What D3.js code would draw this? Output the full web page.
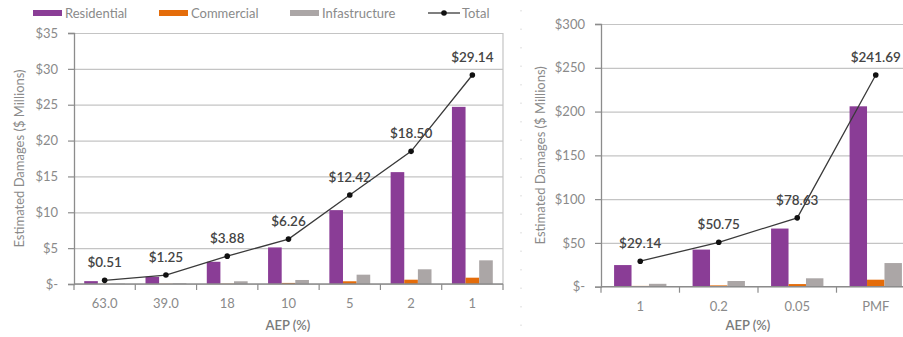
<!DOCTYPE html>
<html>
<head>
<meta charset="utf-8">
<script src="https://cdn.jsdelivr.net/npm/d3@7"></script>
<style>
  html, body { margin: 0; padding: 0; background: #fff; }
  svg { display: block; font-family: Lato, "Open Sans", sans-serif; }
</style>
</head>
<body>
<svg id="chart" width="903" height="337"></svg>
<script>
// Damage estimates ($ millions) by annual exceedance probability
const seriesNames = ["Residential", "Commercial", "Infastructure"];
const seriesColors = ["#8a3d96", "#e46c0a", "#aba6a6"];

const aepLeft = ["63.0", "39.0", "18", "10", "5", "2", "1"];
const residentialLeft = [0.4, 1.0, 3.1, 5.1, 10.3, 15.6, 24.7];
const commercialLeft = [0.02, 0.03, 0.04, 0.15, 0.38, 0.6, 0.88];
const infrastructureLeft = [0.06, 0.1, 0.38, 0.56, 1.3, 2.05, 3.3];
const totalLeft = [0.51, 1.25, 3.88, 6.26, 12.42, 18.50, 29.14];
const yTicksLeft = [0, 5, 10, 15, 20, 25, 30, 35];

const aepRight = ["1", "0.2", "0.05", "PMF"];
const residentialRight = [24.7, 42.4, 66.4, 206];
const commercialRight = [0.9, 1.5, 3.0, 8.0];
const infrastructureRight = [3.3, 6.5, 9.6, 27];
const totalRight = [29.14, 50.75, 78.63, 241.69];
const yTicksRight = [0, 50, 100, 150, 200, 250, 300];

const svg = d3.select("#chart");
const gridColor = "#c4c4c4";
const axisColor = "#8c8c8c";
const labelColor = "#8a8a8a";
const fmtTick = d => d === 0 ? "$-" : "$" + d;

function drawPanel(opt) {
  const g = svg.append("g");
  const x = d3.scaleBand().domain(opt.categories).range([opt.x0, opt.x1]).padding(0);
  const xs = d3.scaleBand().domain(seriesNames).range([0, x.bandwidth()])
    .paddingInner(0).paddingOuter(0.75);
  const y = d3.scaleLinear().domain([0, opt.yMax]).range([opt.y0, opt.y1]);

  // horizontal gridlines
  g.append("g")
    .attr("transform", `translate(${opt.x0},0)`)
    .call(d3.axisLeft(y).tickValues(opt.ticks).tickSize(-(opt.x1 - opt.x0)).tickFormat(""))
    .call(s => s.select(".domain").remove())
    .call(s => s.selectAll("line").attr("stroke", gridColor).attr("stroke-width", 1.2));

  if (opt.rightBorder) {
    g.append("line")
      .attr("x1", opt.x1).attr("x2", opt.x1).attr("y1", y(opt.yMax)).attr("y2", y(0))
      .attr("stroke", gridColor).attr("stroke-width", 1.2);
  }

  // bars
  const rows = opt.categories.map((c, i) => ({ c, v: opt.values.map(arr => arr[i]) }));
  const grp = g.selectAll(".cat").data(rows).join("g")
    .attr("transform", d => `translate(${x(d.c)},0)`);
  grp.selectAll("rect").data(d => d.v.map((v, k) => ({ v, k })))
    .join("rect")
    .attr("x", d => xs(seriesNames[d.k]))
    .attr("width", xs.bandwidth())
    .attr("y", d => y(d.v))
    .attr("height", d => y(0) - y(d.v))
    .attr("fill", d => seriesColors[d.k]);

  // y axis
  const ya = g.append("g")
    .attr("transform", `translate(${opt.x0},0)`)
    .call(d3.axisLeft(y).tickValues(opt.ticks).tickSize(6).tickPadding(10).tickFormat(fmtTick));
  ya.select(".domain").attr("stroke", axisColor).attr("stroke-width", 1.3);
  ya.selectAll("line").attr("stroke", axisColor).attr("stroke-width", 1.2);
  ya.selectAll("text").attr("fill", labelColor).attr("font-size", 13).attr("font-family", "Lato");

  // x axis: baseline, boundary ticks, centred labels
  const xa = g.append("g").attr("transform", `translate(0,${y(0)})`);
  xa.append("line").attr("x1", opt.x0).attr("x2", opt.x1)
    .attr("stroke", axisColor).attr("stroke-width", 1.3);
  const bounds = opt.categories.map(c => x(c)).concat([x.range()[1]]);
  xa.selectAll(".bt").data(bounds).join("line")
    .attr("x1", d => d).attr("x2", d => d).attr("y1", 0).attr("y2", 6)
    .attr("stroke", axisColor).attr("stroke-width", 1.2);
  const xl = g.append("g").attr("transform", `translate(0,${y(0)})`)
    .call(d3.axisBottom(x).tickSize(0).tickPadding(15));
  xl.select(".domain").remove();
  xl.selectAll("text").attr("fill", labelColor).attr("font-size", 13).attr("font-family", "Lato");

  // total line with markers
  const pts = opt.categories.map((c, i) => [x(c) + x.bandwidth() / 2, y(opt.total[i])]);
  g.append("path")
    .attr("d", d3.line()(pts))
    .attr("fill", "none").attr("stroke", "#3a3a3a").attr("stroke-width", 1.3);
  g.selectAll(".pt").data(pts).join("circle")
    .attr("cx", d => d[0]).attr("cy", d => d[1]).attr("r", 2.8).attr("fill", "#111");
  g.selectAll(".lbl").data(opt.total).join("text")
    .attr("x", (d, i) => pts[i][0])
    .attr("y", (d, i) => pts[i][1] - 13)
    .attr("text-anchor", "middle")
    .attr("font-size", 13.5).attr("font-weight", 600).attr("fill", "#444")
    .text(d => "$" + d.toFixed(2));

  // axis titles
  g.append("text")
    .attr("transform", `translate(${opt.yTitleX},${(opt.y0 + opt.y1) / 2}) rotate(-90)`)
    .attr("text-anchor", "middle").attr("dy", "0.35em")
    .attr("font-size", 13).attr("fill", labelColor)
    .text("Estimated Damages ($ Millions)");
  g.append("text")
    .attr("x", opt.xTitleX).attr("y", 330)
    .attr("text-anchor", "middle")
    .attr("font-size", 13).attr("font-weight", 600).attr("fill", "#7a7a7a")
    .text("AEP (%)");
}

drawPanel({
  categories: aepLeft,
  values: [residentialLeft, commercialLeft, infrastructureLeft],
  total: totalLeft, ticks: yTicksLeft, yMax: 35,
  x0: 74, x1: 503, y0: 284, y1: 33,
  rightBorder: true, yTitleX: 19, xTitleX: 288
});

drawPanel({
  categories: aepRight,
  values: [residentialRight, commercialRight, infrastructureRight],
  total: totalRight, ticks: yTicksRight, yMax: 300,
  x0: 601, x1: 915, y0: 286.7, y1: 24,
  rightBorder: false, yTitleX: 540, xTitleX: 748
});

// faint dotted divider between the two panels
svg.append("line")
  .attr("x1", 521).attr("x2", 521).attr("y1", 10).attr("y2", 330)
  .attr("stroke", "#d6d6d6").attr("stroke-width", 1).attr("stroke-dasharray", "1.5,17");

// legend
const legend = svg.append("g").attr("font-size", 13).attr("fill", labelColor);
const legendX = [33, 159, 290];
seriesNames.forEach((name, i) => {
  legend.append("rect").attr("x", legendX[i]).attr("y", 10).attr("width", 29).attr("height", 6)
    .attr("fill", seriesColors[i]);
  legend.append("text").attr("x", legendX[i] + 32).attr("y", 13).attr("dy", "0.35em").text(name);
});
legend.append("line").attr("x1", 428).attr("x2", 460).attr("y1", 13).attr("y2", 13)
  .attr("stroke", "#3a3a3a").attr("stroke-width", 1.3);
legend.append("circle").attr("cx", 444).attr("cy", 13).attr("r", 2.8).attr("fill", "#111");
legend.append("text").attr("x", 462).attr("y", 13).attr("dy", "0.35em").text("Total");
</script>
</body>
</html>
